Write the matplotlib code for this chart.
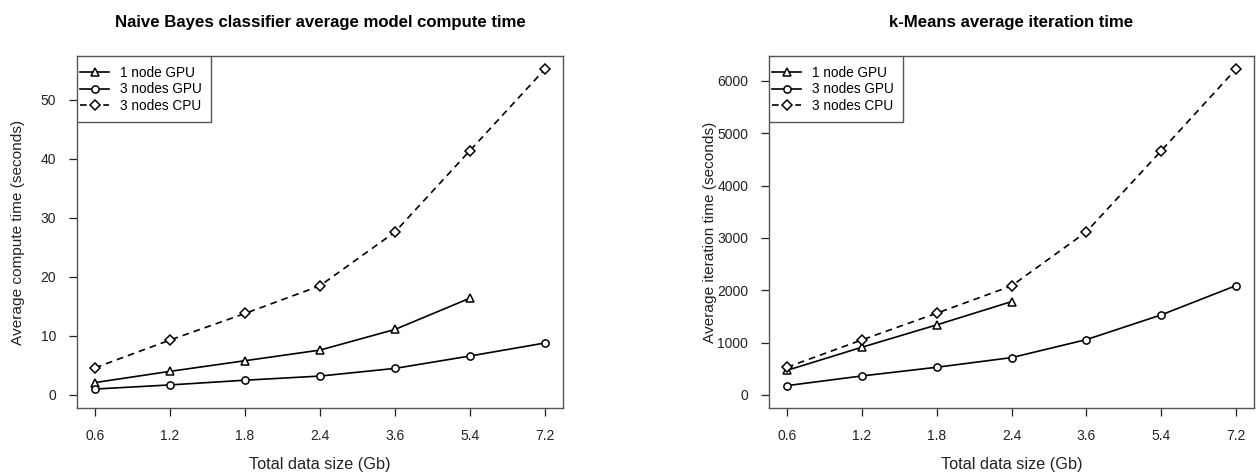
import matplotlib
matplotlib.use('Agg')
import matplotlib.pyplot as plt
from matplotlib.patches import Rectangle
import numpy as np

plt.rcParams['font.family'] = ['Liberation Sans', 'DejaVu Sans']

sizes = ['0.6', '1.2', '1.8', '2.4', '3.6', '5.4', '7.2']
series_names = ['1 node GPU', '3 nodes GPU', '3 nodes CPU']

# Naive Bayes average model compute time (seconds)
nb_gpu1 = [2.1, 4.0, 5.8, 7.6, 11.1, 16.4]
nb_gpu3 = [1.0, 1.7, 2.5, 3.2, 4.5, 6.6, 8.8]
nb_cpu3 = [4.6, 9.3, 13.8, 18.5, 27.6, 41.4, 55.2]

# k-Means average iteration time (seconds)
km_gpu1 = [470, 911, 1338, 1783]
km_gpu3 = [178, 363, 529, 713, 1057, 1529, 2089]
km_cpu3 = [529, 1051, 1561, 2083, 3115, 4663, 6225]

fig = plt.figure(figsize=(12.6, 4.76), dpi=100)

def panel(rect, gpu1, gpu3, cpu3, ymax, yticks, title, ylabel, ylab_x):
    ax = fig.add_axes(rect)
    x = np.arange(len(sizes))
    mk = dict(markerfacecolor='white', markeredgecolor='black', markeredgewidth=1.1,
              color='black', linewidth=1.2)
    ax.plot(x[:len(gpu1)], gpu1, marker='^', markersize=6, linestyle='-',
            label=series_names[0], **mk)
    ax.plot(x[:len(gpu3)], gpu3, marker='o', markersize=5.2, linestyle='-',
            label=series_names[1], **mk)
    ax.plot(x[:len(cpu3)], cpu3, marker='D', markersize=4.6, linestyle=(0, (4, 3)),
            label=series_names[2], **mk)
    n = len(sizes) - 1
    ax.set_xlim(-0.04 * n, n + 0.04 * n)
    ax.set_ylim(-0.04 * ymax, ymax * 1.04)
    ax.set_xticks(x)
    ax.set_xticklabels(sizes)
    ax.set_yticks(yticks)
    ax.tick_params(direction='out', length=6, width=0.9, labelsize=10,
                   pad=9, colors='#222222')
    for s in ax.spines.values():
        s.set_color('#555555')
        s.set_linewidth(1.0)

    # legend box (R style) drawn separately from the entries
    w_px = rect[2] * 1260
    h_px = rect[3] * 476
    box = Rectangle((0, 1 - 66 / h_px), 134 / w_px, 66 / h_px, transform=ax.transAxes,
                    facecolor='white', edgecolor='#555555', linewidth=1.0, zorder=4)
    ax.add_patch(box)
    leg = ax.legend(loc='upper left', bbox_to_anchor=(3 / w_px, 1 - 10 / h_px),
                    fontsize=9.8, frameon=False, borderaxespad=0, borderpad=0,
                    handlelength=2.15, handletextpad=0.8, labelspacing=0.17)
    leg.set_zorder(5)

    cx = rect[0] + rect[2] / 2
    fig.text(cx, 1 - 22 / 476, title, ha='center', va='center',
             fontsize=12.1, fontweight='bold')
    fig.text(cx, 1 - 464 / 476, 'Total data size (Gb)', ha='center', va='center',
             fontsize=11.7, color='#222222')
    fig.text(ylab_x / 1260, rect[1] + rect[3] / 2, ylabel, rotation=90,
             ha='center', va='center', fontsize=11.1, color='#222222')
    return ax

bottom = (476 - 408) / 476
height = 352 / 476
panel([77 / 1260, bottom, 486 / 1260, height], nb_gpu1, nb_gpu3, nb_cpu3,
      55.2, [0, 10, 20, 30, 40, 50],
      'Naive Bayes classifier average model compute time',
      'Average compute time (seconds)', 18)
panel([769 / 1260, bottom, 485 / 1260, height], km_gpu1, km_gpu3, km_cpu3,
      6225, [0, 1000, 2000, 3000, 4000, 5000, 6000],
      'k-Means average iteration time',
      'Average iteration time (seconds)', 710)

fig.savefig('out.png', dpi=100)
